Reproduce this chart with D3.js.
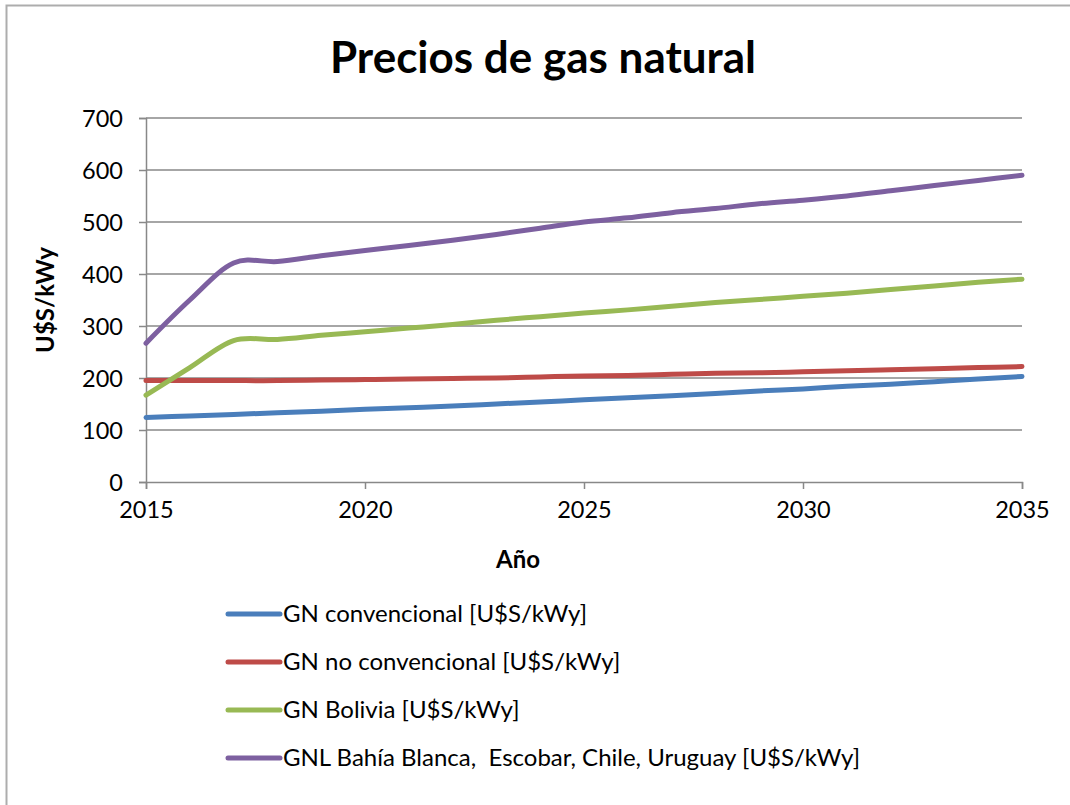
<!DOCTYPE html>
<html>
<head>
<meta charset="utf-8">
<script src="https://cdn.jsdelivr.net/npm/d3@7"></script>
<style>
  body { margin: 0; background: #fff; }
  svg { font-family: Lato, "Open Sans", sans-serif; }
</style>
</head>
<body>
<div id="chart"></div>
<script>
// data
let years = d3.range(2015, 2036);
let xTicks = [2015, 2020, 2025, 2030, 2035];
let yTicks = [0, 100, 200, 300, 400, 500, 600, 700];

let gnConvencional = [124, 127, 130, 133, 136, 140, 143, 146, 150, 154, 158, 162, 166, 170, 175, 179, 184, 188, 193, 198, 203];
let gnNoConvencional = [195, 195, 195, 195, 196, 197, 198, 199, 200, 202, 204, 205, 207, 209, 210, 212, 214, 216, 218, 220, 222];
let gnBolivia = [167, 220, 272, 274, 282, 289, 296, 303, 311, 318, 325, 331, 338, 345, 351, 357, 363, 370, 377, 384, 390];
let gnl = [267, 350, 421, 424, 435, 445, 455, 465, 476, 488, 500, 508, 518, 526, 535, 542, 550, 560, 570, 580, 590];

let seriesNames = [
  "GN convencional [U$S/kWy]",
  "GN no convencional [U$S/kWy]",
  "GN Bolivia [U$S/kWy]",
  "GNL Bahía Blanca,  Escobar, Chile, Uruguay [U$S/kWy]"
];
let seriesValues = [gnConvencional, gnNoConvencional, gnBolivia, gnl];
let seriesColors = ["#4a7ebb", "#be4b48", "#98b954", "#7d60a0"];

let width = 1070, height = 805;
let plot = { left: 146, right: 1022, top: 118, bottom: 482 };

let svg = d3.select("#chart")
    .append("svg")
    .attr("width", width)
    .attr("height", height);

svg.append("rect")
    .attr("x", 6.5)
    .attr("y", 5.5)
    .attr("width", 1070)
    .attr("height", 810)
    .attr("fill", "#fff")
    .attr("stroke", "#adadad")
    .attr("stroke-width", 2);

let x = d3.scaleLinear().domain([2015, 2035]).range([plot.left, plot.right]);
let y = d3.scaleLinear().domain([0, 700]).range([plot.bottom, plot.top]);

// title
svg.append("text")
    .attr("x", 543)
    .attr("y", 73)
    .attr("text-anchor", "middle")
    .attr("font-size", 44)
    .attr("font-weight", "bold")
    .text("Precios de gas natural");

// gridlines
svg.append("g")
    .selectAll("line")
    .data(yTicks.filter(d => d > 0))
    .enter().append("line")
    .attr("x1", plot.left)
    .attr("x2", plot.right)
    .attr("y1", d => y(d))
    .attr("y2", d => y(d))
    .attr("stroke", "#888")
    .attr("stroke-width", 1.3);

// axes
let yAxis = svg.append("g")
    .attr("transform", `translate(${plot.left},0)`)
    .call(d3.axisLeft(y).tickValues(yTicks).tickSize(7).tickPadding(16));

let xAxis = svg.append("g")
    .attr("transform", `translate(0,${plot.bottom})`)
    .call(d3.axisBottom(x).tickValues(xTicks).tickSize(7).tickPadding(12).tickFormat(d3.format("d")));

[yAxis, xAxis].forEach(ax => {
  ax.select(".domain").attr("stroke", "#888").attr("stroke-width", 1.5);
  ax.selectAll(".tick line").attr("stroke", "#888").attr("stroke-width", 1.5);
  ax.selectAll(".tick text")
      .attr("font-size", 23.5)
      .attr("fill", "#000")
      .attr("font-family", "Lato, sans-serif");
});
yAxis.selectAll(".tick text").attr("dy", "0.35em");

// axis titles
svg.append("text")
    .attr("transform", "translate(54,300) rotate(-90)")
    .attr("text-anchor", "middle")
    .attr("font-size", 24)
    .attr("font-weight", "bold")
    .text("U$S/kWy");

svg.append("text")
    .attr("x", 518)
    .attr("y", 568)
    .attr("text-anchor", "middle")
    .attr("font-size", 24)
    .attr("font-weight", "bold")
    .text("Año");

// lines
let line = d3.line()
    .x((d, i) => x(years[i]))
    .y(d => y(d))
    .curve(d3.curveCatmullRom.alpha(0));

svg.append("g")
    .selectAll("path")
    .data(seriesValues)
    .enter().append("path")
    .attr("d", line)
    .attr("fill", "none")
    .attr("stroke", (d, i) => seriesColors[i])
    .attr("stroke-width", 5)
    .attr("stroke-linecap", "round");

// legend
let legend = svg.append("g")
    .selectAll("g")
    .data(seriesNames)
    .enter().append("g")
    .attr("transform", (d, i) => `translate(228,${614 + i * 48})`);

legend.append("line")
    .attr("x1", 0)
    .attr("x2", 52)
    .attr("stroke", (d, i) => seriesColors[i])
    .attr("stroke-width", 5)
    .attr("stroke-linecap", "round");

legend.append("text")
    .attr("x", 55)
    .attr("dy", "0.35em")
    .attr("font-size", 24)
    .style("white-space", "pre")
    .text(d => d);
</script>
</body>
</html>
